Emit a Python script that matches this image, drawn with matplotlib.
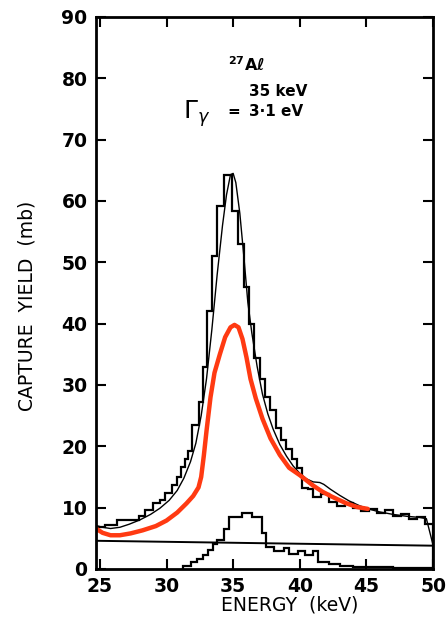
import matplotlib
matplotlib.use("Agg")
import matplotlib.pyplot as plt

# ---------------- data ----------------
# measured capture yield histogram (bin edges in keV, values in mb)
hist_edges = [24.7, 25.4, 26.3, 27.9, 28.4, 29.0, 29.5, 29.9, 30.4, 30.8,
              31.1, 31.4, 31.6, 31.9, 32.4, 32.7, 33.0, 33.4, 33.8, 34.3,
              34.9, 35.4, 35.8, 36.2, 36.6, 37.0, 37.4, 37.8, 38.2, 38.6,
              39.0, 39.4, 39.8, 40.2, 40.6, 41.0, 41.6, 42.2, 42.8, 43.4,
              44.0, 44.6, 45.2, 45.8, 46.4, 47.0, 47.6, 48.2, 48.8, 49.4, 50.0]
hist_values = [6.8, 7.2, 8.0, 8.7, 9.6, 10.8, 11.3, 12.4, 13.7, 15.0,
               16.6, 18.0, 19.3, 23.5, 27.2, 33.0, 42.0, 51.0, 59.2, 64.3,
               58.3, 53.0, 46.0, 40.0, 34.4, 31.0, 28.0, 26.0, 23.0, 21.0,
               19.5, 18.0, 16.5, 13.2, 13.0, 11.8, 12.3, 11.0, 10.2, 10.8,
               10.0, 9.4, 9.8, 9.2, 9.6, 8.7, 8.9, 8.2, 8.5, 7.3]

# lower component histogram
low_edges = [31.2, 31.8, 32.3, 32.7, 33.1, 33.5, 33.8, 34.3, 34.7, 35.7,
             36.4, 37.2, 37.5, 38.1, 38.8, 39.2, 39.9, 40.4, 41.0, 41.4,
             42.2, 43.0, 44.0, 45.0, 46.0, 47.0, 48.0, 49.0, 50.0]
low_values = [0.5, 1.1, 1.6, 2.3, 3.1, 4.0, 4.8, 6.5, 8.4, 9.2,
              8.4, 5.9, 3.6, 3.0, 3.4, 2.5, 2.9, 2.3, 3.0, 1.2,
              0.8, 0.5, 0.4, 0.3, 0.3, 0.2, 0.2, 0.2]

# fitted curve (thin black)
fit_x = [24.7, 25.2, 25.8, 26.5, 27.2, 28.0, 28.8, 29.5, 30.2, 30.8,
         31.3, 31.8, 32.2, 32.6, 33.0, 33.4, 33.8, 34.2, 34.5, 34.8,
         35.0, 35.2, 35.5, 35.8, 36.1, 36.4, 36.8, 37.2, 37.6, 38.0,
         38.5, 39.0, 39.5, 40.0, 40.5, 41.0, 41.5, 41.8, 42.3, 43.0,
         43.7, 44.5, 45.3, 46.0, 47.0, 48.0, 49.0, 49.5, 50.0]
fit_y = [7.1, 6.8, 6.6, 6.8, 7.3, 8.0, 8.9, 9.9, 11.2, 12.8,
         14.8, 17.5, 20.5, 25.0, 31.0, 39.0, 48.0, 56.0, 61.0, 64.3,
         64.5, 63.0, 58.0, 51.0, 43.5, 38.5, 33.0, 28.5, 25.3, 22.8,
         20.3, 18.4, 16.8, 15.6, 14.7, 14.2, 14.1, 13.8, 13.0, 12.0,
         11.1, 10.3, 9.7, 9.3, 8.9, 8.6, 8.4, 8.2, 3.9]

# red curve
red_x = [24.7, 25.2, 25.8, 26.5, 27.3, 28.2, 29.2, 30.0, 30.8, 31.5,
         32.0, 32.4, 32.6, 32.8, 33.0, 33.3, 33.6, 34.0, 34.4, 34.8,
         35.1, 35.4, 35.7, 36.0, 36.3, 36.7, 37.2, 37.8, 38.5, 39.2,
         40.0, 41.0, 41.7, 42.4, 43.5, 44.3, 45.1]
red_y = [6.6, 5.9, 5.5, 5.5, 5.8, 6.3, 7.0, 7.9, 9.2, 10.7,
         11.9, 13.3, 15.0, 18.5, 22.5, 28.0, 32.0, 35.0, 37.8, 39.4,
         39.8, 39.4, 37.5, 34.5, 31.0, 27.8, 24.5, 21.3, 18.6, 16.5,
         15.3, 13.6, 12.6, 11.8, 10.7, 10.1, 9.8]

# background line
bg_x = [24.7, 50.0]
bg_y = [4.6, 3.8]

x_ticks = [25, 30, 35, 40, 45, 50]
x_labels = ["25", "30", "35", "40", "45", "50"]
y_ticks = [0, 10, 20, 30, 40, 50, 60, 70, 80, 90]
y_labels = ["0", "10", "20", "30", "40", "50", "60", "70", "80", "90"]

# ---------------- plot ----------------
plt.rcParams['font.family'] = ['DejaVu Sans']
fig = plt.figure(figsize=(4.46, 6.18), dpi=100)
ax = fig.add_axes([0.215, 0.0793, 0.756, 0.8932])

ax.stairs(hist_values, hist_edges, color='black', lw=1.6)
ax.stairs(low_values, low_edges, color='black', lw=1.6)
ax.plot(fit_x, fit_y, color='black', lw=1.0)
ax.plot(bg_x, bg_y, color='black', lw=1.4)
ax.plot(red_x, red_y, color='#ff3a12', lw=3.2, solid_capstyle='round',
        solid_joinstyle='round')

ax.set_xlim(24.7, 50.0)
ax.set_ylim(0, 90)
ax.set_xticks(x_ticks)
ax.set_xticklabels(x_labels)
ax.set_yticks(y_ticks)
ax.set_yticklabels(y_labels)

ax.tick_params(direction='in', length=7, width=1.5, top=True, right=True,
               labelsize=13.5, pad=6)
for lab in ax.get_xticklabels() + ax.get_yticklabels():
    lab.set_fontweight('bold')
for sp in ax.spines.values():
    sp.set_linewidth(2.0)

ax.set_xlabel("ENERGY  (keV)", fontsize=13.5)
ax.xaxis.set_label_coords(0.576, -0.048)
ax.set_ylabel("CAPTURE  YIELD  (mb)", fontsize=13.5)
ax.yaxis.set_label_coords(-0.175, 0.476)

ax.text(36.0, 82.2, r"$^{\mathbf{27}}$Aℓ", fontsize=11.5, fontweight='bold',
        ha='center', va='center')
ax.text(36.2, 77.9, "35 keV", fontsize=11, fontweight='bold',
        ha='left', va='center')
ax.text(31.2, 74.2, r"$\Gamma_{\gamma}$", fontsize=18,
        ha='left', va='center')
ax.text(34.6, 74.6, "=", fontsize=11, fontweight='bold',
        ha='left', va='center')
ax.text(36.2, 74.6, "3·1 eV", fontsize=11, fontweight='bold',
        ha='left', va='center')

fig.savefig("out.png", dpi=100)
